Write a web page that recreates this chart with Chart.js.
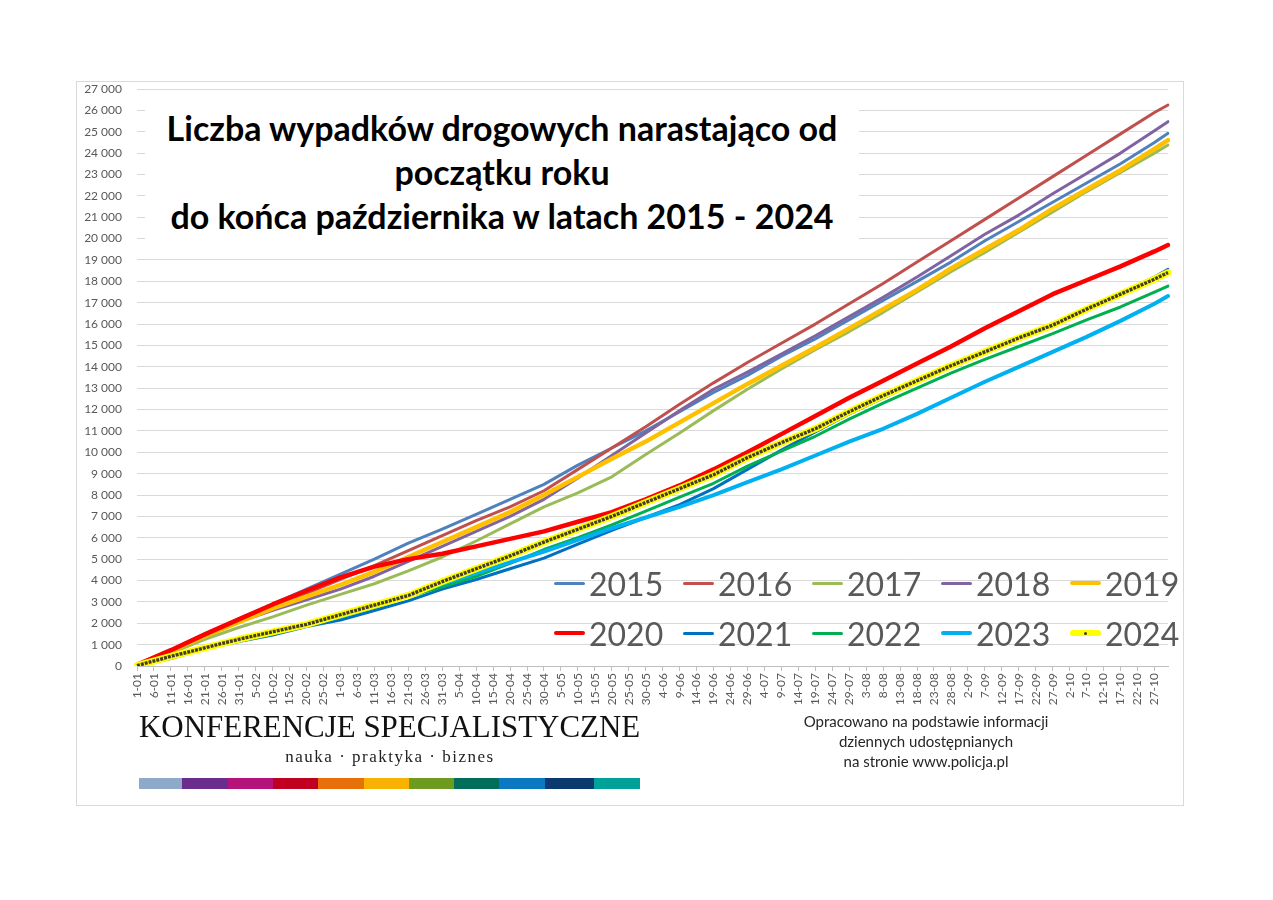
<!DOCTYPE html>
<html lang="pl">
<head>
<meta charset="utf-8">
<title>Liczba wypadków drogowych narastająco 2015 - 2024</title>
<script src="https://cdn.jsdelivr.net/npm/chart.js@4.4.1/dist/chart.umd.min.js"></script>
<style>
  body { margin: 0; background: #fff; }
  #wrap { position: relative; width: 1273px; height: 900px; overflow: hidden; }
  #title {
    position: absolute; left: 145px; top: 95px; width: 714px; height: 158px;
    background: #fff; box-sizing: border-box; padding-top: 11px;
    text-align: center; font: bold 34px Lato, sans-serif; line-height: 44px; color: #000;
  }
  #title div { white-space: nowrap; }
  .leg { position: absolute; height: 40px; display: flex; align-items: center;
         font: 32px Lato, sans-serif; color: #595959; }
  .sw { position: relative; width: 31px; margin-right: 4px; border-radius: 3px; }
  .sw i { position: absolute; left: 14px; top: 50%; width: 3px; height: 3px; margin-top: -1.5px;
          border-radius: 50%; background: #3d3426; }
  #logo { position: absolute; left: 139px; top: 710px; font: 32px "Liberation Serif", serif;
          line-height: 32px; color: #111; white-space: nowrap; transform-origin: 0 0; }
  #motto { position: absolute; left: 273px; top: 748px; width: 234px; text-align: center;
           font: 17px "Liberation Serif", serif; line-height: 17px; letter-spacing: 1.5px; color: #222; white-space: nowrap; }
  #bar { position: absolute; left: 139px; top: 778px; height: 11px; display: flex; }
  #source { position: absolute; left: 776px; top: 711px; width: 300px; text-align: center;
            font: 15px Lato, sans-serif; line-height: 20px; color: #262626; }
</style>
</head>
<body>
<div id="wrap">
  <canvas id="chart" width="1273" height="900"></canvas>
  <div id="title">
    <div>Liczba wypadków drogowych narastająco od</div>
    <div>początku roku</div>
    <div>do końca października w latach 2015 - 2024</div>
  </div>
  <div id="legend"></div>
  <div id="logo">KONFERENCJE SPECJALISTYCZNE</div>
  <div id="motto">nauka · praktyka · biznes</div>
  <div id="bar"></div>
  <div id="source">Opracowano na podstawie informacji<br>dziennych udostępnianych<br>na stronie www.policja.pl</div>
</div>
<script>
// days of 2024 (1-01 .. 31-10), values read every 10 days
const monthDays = [31, 29, 31, 30, 31, 30, 31, 31, 30, 31];
const sampleDays = [0, 10, 20, 30, 40, 50, 60, 70, 80, 90, 100, 110, 120, 130, 140, 150,
  160, 170, 180, 190, 200, 210, 220, 230, 240, 250, 260, 270, 280, 290, 300, 304];

const y2015 = [50, 750, 1500, 2200, 2900, 3600, 4300, 5000, 5750, 6400, 7100, 7800, 8500, 9400, 10200, 11000,
  11900, 12800, 13600, 14500, 15300, 16200, 17100, 18000, 18900, 19900, 20800, 21700, 22600, 23500, 24500, 24930];
const y2016 = [50, 720, 1420, 2100, 2780, 3400, 4050, 4700, 5400, 6100, 6800, 7450, 8200, 9200, 10200, 11200,
  12250, 13250, 14200, 15100, 16000, 16950, 17900, 18900, 19900, 20900, 21900, 22900, 23900, 24900, 25900, 26250];
const y2017 = [50, 600, 1250, 1800, 2300, 2850, 3350, 3850, 4450, 5100, 5850, 6650, 7450, 8100, 8850, 9900,
  10900, 11950, 12950, 13900, 14800, 15650, 16550, 17500, 18450, 19350, 20300, 21250, 22200, 23100, 24000, 24380];
const y2018 = [50, 700, 1400, 2050, 2600, 3100, 3600, 4200, 4900, 5600, 6300, 7000, 7800, 8800, 9850, 10900,
  11950, 12950, 13750, 14600, 15450, 16350, 17250, 18200, 19200, 20200, 21100, 22100, 23050, 24000, 25050, 25470];
const y2019 = [50, 700, 1400, 2050, 2700, 3250, 3800, 4400, 5100, 5800, 6500, 7200, 8000, 8850, 9700, 10500,
  11400, 12300, 13200, 14050, 14900, 15800, 16700, 17600, 18600, 19500, 20400, 21400, 22300, 23200, 24200, 24610];
const y2020 = [50, 740, 1480, 2180, 2880, 3520, 4150, 4650, 5000, 5250, 5600, 5950, 6300, 6750, 7200, 7800,
  8450, 9200, 10000, 10850, 11700, 12550, 13350, 14150, 14950, 15800, 16600, 17400, 18050, 18700, 19400, 19700];
const y2021 = [20, 350, 800, 1150, 1450, 1850, 2150, 2600, 3050, 3600, 4050, 4550, 5050, 5700, 6350, 6950,
  7550, 8300, 9200, 10100, 10950, 11800, 12550, 13300, 14000, 14650, 15300, 15950, 16700, 17450, 18200, 18560];
const y2022 = [20, 400, 850, 1200, 1550, 1950, 2300, 2750, 3250, 3700, 4200, 4800, 5450, 6000, 6600, 7250,
  7900, 8550, 9350, 10050, 10750, 11550, 12300, 13000, 13700, 14350, 14950, 15550, 16200, 16800, 17500, 17780];
const y2023 = [20, 420, 850, 1200, 1550, 1950, 2300, 2800, 3350, 3850, 4350, 4850, 5350, 5900, 6450, 6950,
  7450, 8000, 8600, 9200, 9850, 10500, 11100, 11800, 12550, 13300, 14000, 14700, 15400, 16150, 16950, 17310];
const y2024 = [20, 450, 850, 1250, 1600, 1950, 2400, 2850, 3300, 3950, 4550, 5150, 5800, 6400, 7000, 7650,
  8300, 8950, 9750, 10450, 11100, 11900, 12650, 13350, 14050, 14700, 15350, 15950, 16700, 17400, 18100, 18410];

const years = ["2015", "2016", "2017", "2018", "2019", "2020", "2021", "2022", "2023", "2024"];
const values = [y2015, y2016, y2017, y2018, y2019, y2020, y2021, y2022, y2023, y2024];
const colors = ["#4f81bd", "#c0504d", "#9bbb59", "#8064a2", "#ffc000",
  "#ff0000", "#0070c0", "#00b050", "#00b0f0", "#ffff00"];
const widths = [3, 3, 3, 3, 4.5, 4.5, 3, 3, 4, 7];
const logoColors = ["#8fa9c8", "#6b2d8b", "#b3137b", "#c00020", "#e8700a", "#f9b200",
  "#6e9b1f", "#006e5b", "#0b78c2", "#0b3a6e", "#00a19b"];
const logoWidths = [43, 46, 45, 45, 46, 45, 45, 45, 46, 49, 46];

// category labels "d-mm"
const dayLabels = [];
monthDays.forEach((n, m) => {
  for (let d = 1; d <= n; d++) dayLabels.push(d + "-" + String(m + 1).padStart(2, "0"));
});

const toPoints = arr => arr.map((v, i) => ({ x: dayLabels[sampleDays[i]], y: v }));

const datasets = years.map((yr, i) => ({
  label: yr,
  data: toPoints(values[i]),
  borderColor: colors[i],
  backgroundColor: colors[i],
  borderWidth: widths[i],
  order: 20 - i
}));
// dark daily markers of 2024 drawn as a dotted line on top
datasets.push({
  label: "2024 markers",
  data: toPoints(y2024),
  borderColor: "#463c2e",
  borderWidth: 3.4,
  borderDash: [3, 1],
  borderCapStyle: "butt",
  order: 0
});

const fmt = v => String(v).replace(/\B(?=(\d{3})+(?!\d))/g, " ");

const frame = {
  id: "frame",
  beforeDraw(chart) {
    const c = chart.ctx;
    c.save();
    c.fillStyle = "#fff";
    c.fillRect(0, 0, chart.width, chart.height);
    c.strokeStyle = "#d9d9d9";
    c.lineWidth = 1;
    c.strokeRect(76.5, 81.5, 1107, 724);
    c.restore();
  }
};

const chart = new Chart(document.getElementById("chart"), {
  type: "line",
  data: { labels: dayLabels, datasets: datasets },
  options: {
    responsive: false,
    animation: false,
    devicePixelRatio: 1,
    layout: { padding: { top: 89, right: 105, left: 0, bottom: 0 } },
    elements: {
      point: { radius: 0 },
      line: { tension: 0, borderJoinStyle: "round", borderCapStyle: "round" }
    },
    plugins: { legend: { display: false }, tooltip: { enabled: false } },
    scales: {
      x: {
        offset: false,
        afterFit: s => { s.height = 234; },
        grid: {
          drawOnChartArea: false, drawTicks: true, tickLength: 5,
          color: ctx => ctx.index % 5 === 0 ? "#bfbfbf" : "rgba(0,0,0,0)"
        },
        border: { color: "#bfbfbf" },
        ticks: {
          autoSkip: false, maxRotation: 90, minRotation: 90, padding: 2,
          color: "#595959", font: { family: "Lato", size: 12 },
          callback: function (val, i) { return i % 5 === 0 ? this.getLabelForValue(val) : ""; }
        }
      },
      y: {
        min: 0, max: 27000,
        afterFit: s => { s.width = 137; },
        grid: { color: "#d9d9d9", drawTicks: false },
        border: { display: false },
        ticks: {
          stepSize: 1000, padding: 15, color: "#595959",
          font: { family: "Lato", size: 12 },
          callback: v => fmt(v)
        }
      }
    }
  },
  plugins: [frame]
});

// legend built from the datasets
const legend = document.getElementById("legend");
chart.data.datasets.slice(0, years.length).forEach((ds, i) => {
  const item = document.createElement("div");
  item.className = "leg";
  item.style.left = (554 + (i % 5) * 129) + "px";
  item.style.top = (563 + Math.floor(i / 5) * 50) + "px";
  const sw = document.createElement("span");
  sw.className = "sw";
  sw.style.height = Math.max(3, Math.min(6, ds.borderWidth)) + "px";
  sw.style.background = ds.borderColor;
  if (ds.label === "2024") sw.appendChild(document.createElement("i"));
  item.appendChild(sw);
  item.appendChild(document.createTextNode(ds.label));
  legend.appendChild(item);
});

// logo
const bar = document.getElementById("bar");
logoColors.forEach((c, i) => {
  const s = document.createElement("span");
  s.style.width = logoWidths[i] + "px";
  s.style.background = c;
  bar.appendChild(s);
});
const logo = document.getElementById("logo");
logo.style.transform = "scaleX(" + (501 / logo.scrollWidth) + ")";
</script>
</body>
</html>
